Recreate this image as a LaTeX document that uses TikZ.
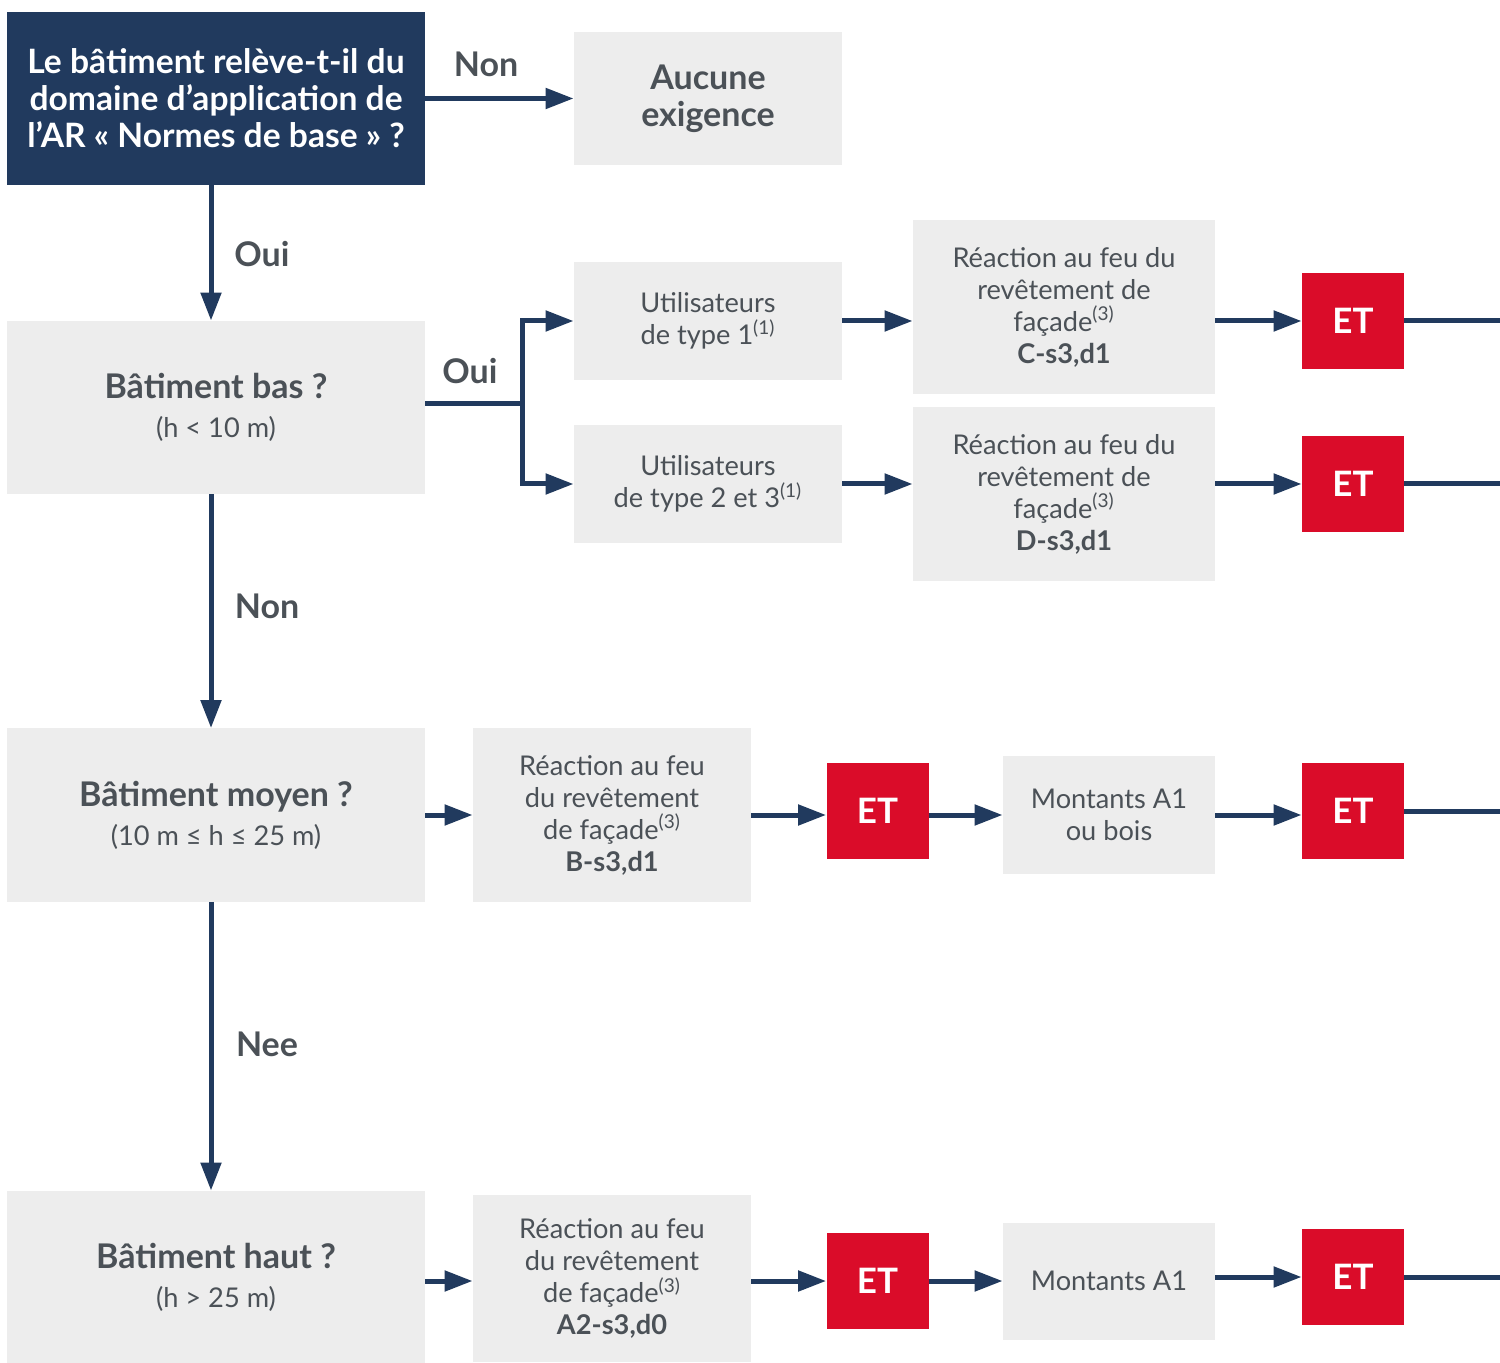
\documentclass[tikz,border=0pt]{standalone}
\usepackage{fontspec}
\setmainfont{Lato}
\usetikzlibrary{arrows.meta}
\definecolor{navy}{HTML}{213A5E}
\definecolor{boxgray}{HTML}{EDEDED}
\definecolor{textgray}{HTML}{4B5157}
\definecolor{etred}{HTML}{DA0C29}

\begin{document}
\begin{tikzpicture}[x=0.5pt, y=-0.5pt,
    box/.style={fill=boxgray, text=textgray, align=center, inner sep=0pt,
      font=\fontsize{13.6}{16}\selectfont},
    question/.style={box, minimum width=209pt, minimum height=86.5pt,
      font=\fontsize{17}{19.5}\selectfont},
    start/.style={question, fill=navy, text=white,
      font=\bfseries\fontsize{16.8}{18.5}\selectfont},
    et/.style={fill=etred, text=white, inner sep=0pt, minimum width=51pt,
      minimum height=48pt, font=\bfseries\fontsize{17.5}{18}\selectfont},
    answer/.style={text=textgray, inner sep=0pt, font=\bfseries\fontsize{17}{18}\selectfont},
    line/.style={draw=navy, line width=2.5pt},
    arrow/.style={line, -{Triangle[length=14pt, width=10pt]}},
  ]
  \useasboundingbox (0,0) rectangle (1500,1363);

  \node[start] (1) at (216, 98.5) {Le bâtiment relève-t-il du\\domaine d’application de\\l’AR «~Normes de base~» ?};
  \node[box, minimum width=134pt, minimum height=66.5pt,
    font=\bfseries\fontsize{17}{18.5}\selectfont] (2) at (708, 98.5) {Aucune\\exigence};
  \node[question] (3) at (216, 407.5) {\textbf{Bâtiment bas ?}\\{\fontsize{13.6}{20}\selectfont (h < 10 m)}};
  \node[box, minimum width=134pt, minimum height=59pt] (4) at (708, 321) {Utilisateurs\\de type 1\textsuperscript{(1)}};
  \node[box, minimum width=134pt, minimum height=59pt] (5) at (708, 484) {Utilisateurs\\de type 2 et 3\textsuperscript{(1)}};
  \node[box, minimum width=151pt, minimum height=87pt] (6) at (1064, 307) {Réaction au feu du\\revêtement de\\façade\textsuperscript{(3)}\\\textbf{C-s3,d1}};
  \node[box, minimum width=151pt, minimum height=87pt] (7) at (1064, 494) {Réaction au feu du\\revêtement de\\façade\textsuperscript{(3)}\\\textbf{D-s3,d1}};
  \node[et] (8) at (1353, 321) {ET};
  \node[et] (9) at (1353, 484) {ET};
  \node[question] (10) at (216, 815) {\textbf{Bâtiment moyen ?}\\{\fontsize{13.6}{20}\selectfont (10 m ≤ h ≤ 25 m)}};
  \node[box, minimum width=139pt, minimum height=86.5pt] (11) at (612, 815) {Réaction au feu\\du revêtement\\de façade\textsuperscript{(3)}\\\textbf{B-s3,d1}};
  \node[et] (12) at (877.5, 811) {ET};
  \node[box, minimum width=106pt, minimum height=58.5pt] (13) at (1109, 815) {Montants A1\\ou bois};
  \node[et] (14) at (1353, 811) {ET};
  \node[question] (15) at (216, 1277.5) {\textbf{Bâtiment haut ?}\\{\fontsize{13.6}{20}\selectfont (h > 25 m)}};
  \node[box, minimum width=139pt, minimum height=83.5pt] (16) at (612, 1278.5) {Réaction au feu\\du revêtement\\de façade\textsuperscript{(3)}\\\textbf{A2-s3,d0}};
  \node[et] (17) at (877.5, 1281) {ET};
  \node[box, minimum width=106pt, minimum height=58.5pt] (18) at (1109, 1281) {Montants A1};
  \node[et] (19) at (1353, 1277) {ET};

  \node[answer] (20) at (486, 64) {Non};
  \node[answer] (21) at (262, 254) {Oui};
  \node[answer] (22) at (470, 371) {Oui};
  \node[answer] (23) at (267, 606) {Non};
  \node[answer] (24) at (267, 1044) {Nee};

  \coordinate (j) at (522, 404);
  \coordinate (e1) at (1500, 321);
  \coordinate (e2) at (1500, 484);
  \coordinate (e3) at (1500, 811);
  \coordinate (e4) at (1500, 1277);

  \draw[arrow] (1) -- (2);
  \draw[arrow] ([xshift=-2.5pt]1.south) -- ([xshift=-2.5pt]3.north);
  \draw[line] (3.east |- j) -- (j);
  \draw[arrow] (j) |- (4);
  \draw[arrow] (j) |- (5);
  \draw[arrow] (4) -- (4 -| 6.west);
  \draw[arrow] (5) -- (5 -| 7.west);
  \draw[arrow] (8 -| 6.east) -- (8);
  \draw[arrow] (9 -| 7.east) -- (9);
  \draw[line] (8) -- (e1);
  \draw[line] (9) -- (e2);
  \draw[arrow] ([xshift=-2.5pt]3.south) -- ([xshift=-2.5pt]10.north);
  \draw[arrow] (10) -- (11);
  \draw[arrow] (11) -- (11 -| 12.west);
  \draw[arrow] (12.east |- 13) -- (13);
  \draw[arrow] (13) -- (13 -| 14.west);
  \draw[line] (14) -- (e3);
  \draw[arrow] ([xshift=-2.5pt]10.south) -- ([xshift=-2.5pt]15.north);
  \draw[arrow] (15.east |- 17) -- (16.west |- 17);
  \draw[arrow] (16.east |- 17) -- (17);
  \draw[arrow] (17) -- (18);
  \draw[arrow] (18.east |- 19) -- (19);
  \draw[line] (19) -- (e4);
\end{tikzpicture}
\end{document}
